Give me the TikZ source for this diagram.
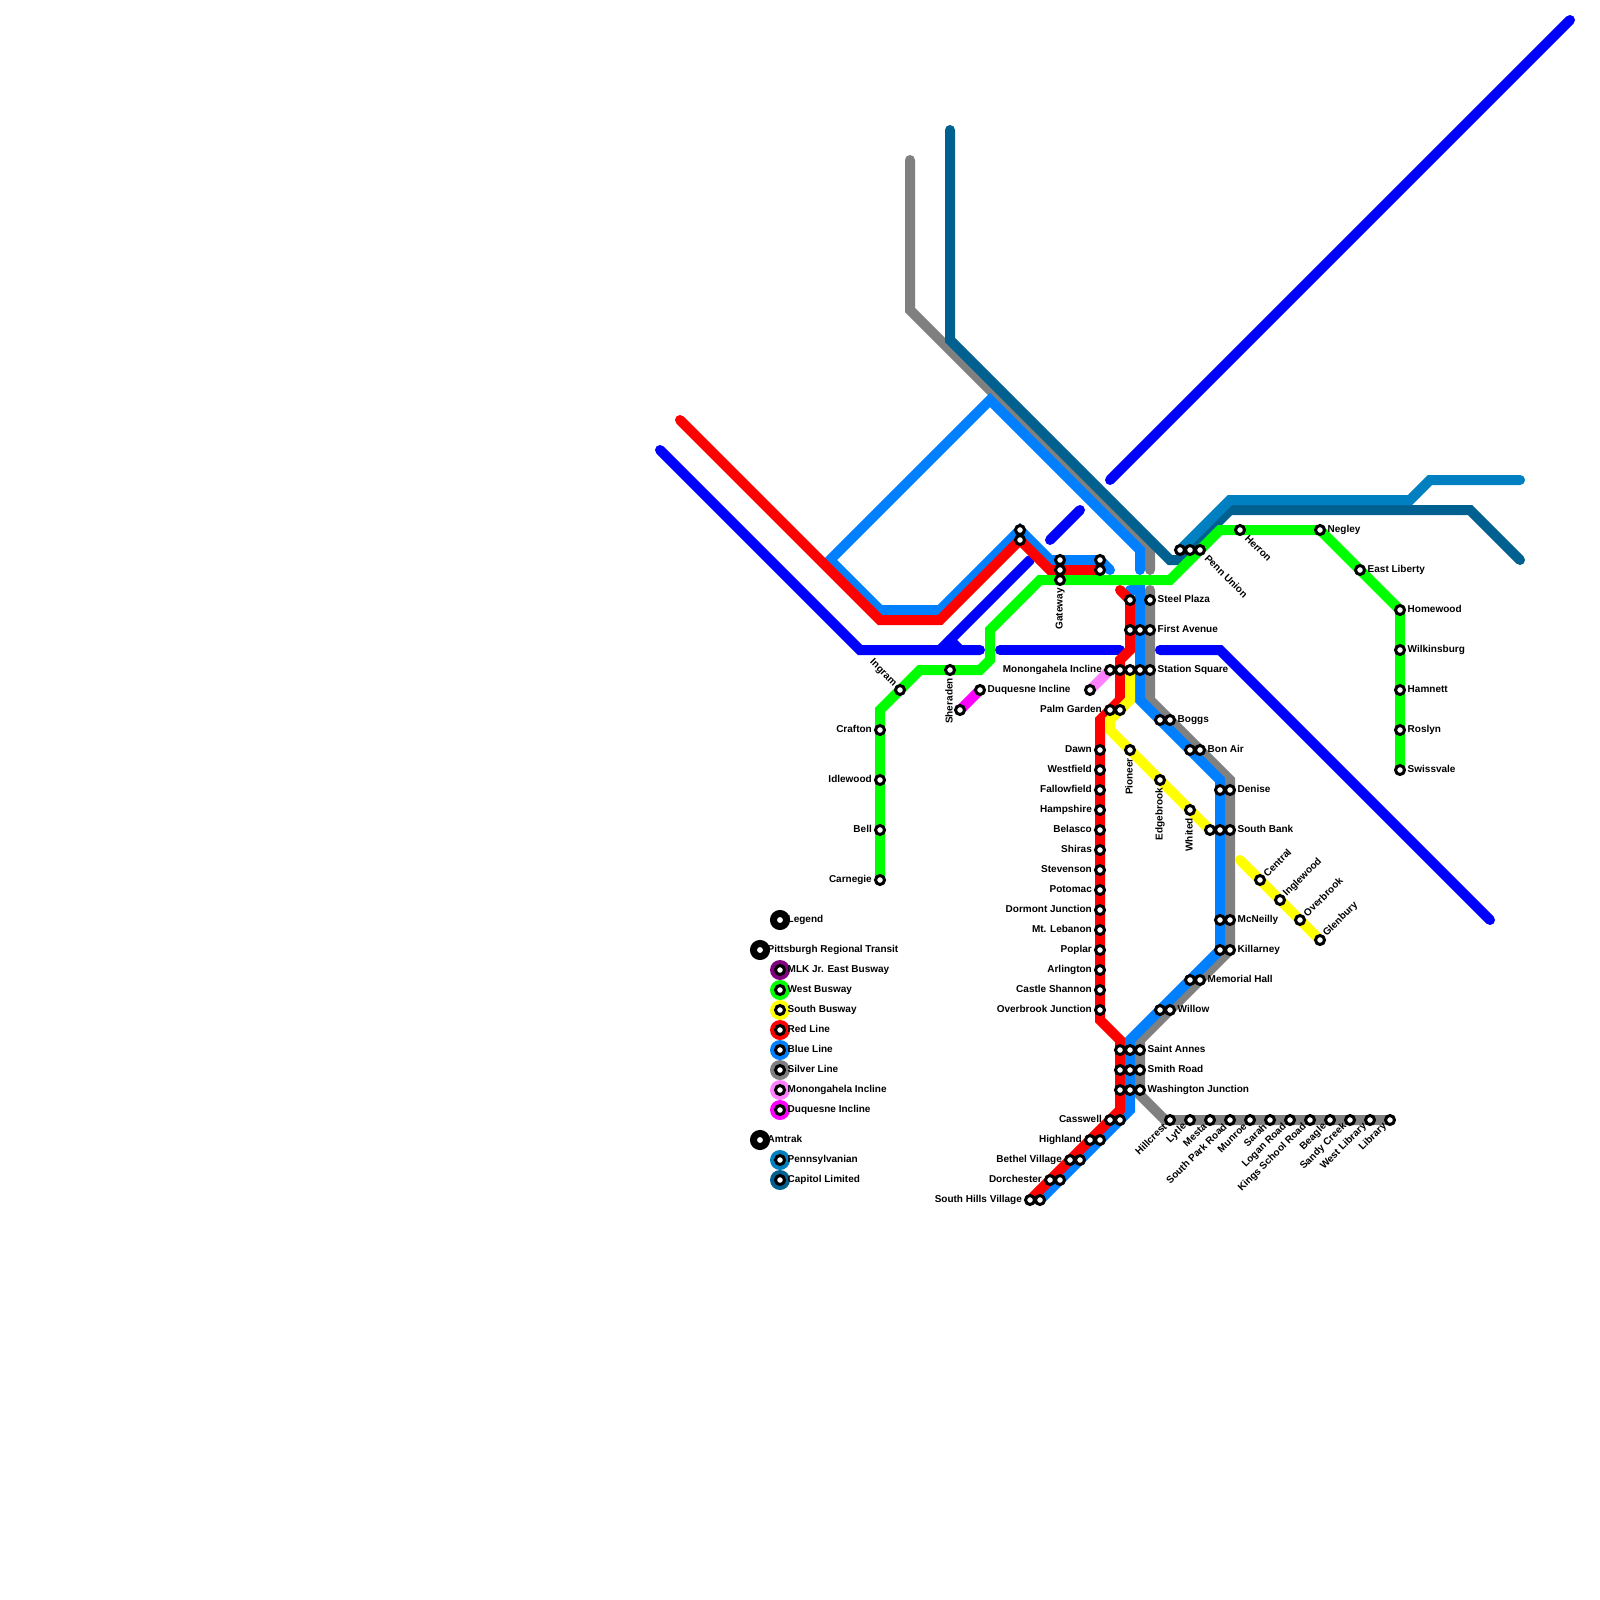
\documentclass[tikz,border=0pt]{standalone}
\usepackage{fontspec}
\setmainfont{Liberation Sans}[BoldFont={Liberation Sans Bold}]
\definecolor{cbus}{HTML}{0000FF}
\definecolor{cwest}{HTML}{00FF00}
\definecolor{csouth}{HTML}{FFFF00}
\definecolor{cred}{HTML}{FF0000}
\definecolor{cblue}{HTML}{0080FF}
\definecolor{csilver}{HTML}{808080}
\definecolor{cmon}{HTML}{FF80FF}
\definecolor{cduq}{HTML}{FF00FF}
\definecolor{cpenn}{HTML}{0080C0}
\definecolor{ccap}{HTML}{006090}
\definecolor{cmlk}{HTML}{800080}
\tikzset{
  route/.style={draw=#1,line width=10pt,line cap=round,line join=miter},
  stn/.style={circle,draw=black,fill=white,line width=3pt,minimum size=9pt,inner sep=0pt},
  swatch/.style={circle,fill=#1,minimum size=20pt,inner sep=0pt},
  hdr/.style={circle,draw=black,fill=white,line width=7pt,minimum size=13pt,inner sep=0pt},
  lab/.style={font=\fontsize{10}{12}\selectfont\bfseries,text=black,inner sep=0pt},
}
\newcommand\lblR[3]{\node[lab,anchor=base west] (tr#1-#2) at (#1+7.5,#2+2.3) {#3};}
\newcommand\lblL[3]{\node[lab,anchor=base east] (tl#1-#2) at (#1-8,#2+2.3) {#3};}
\newcommand\lblV[3]{\node[lab,rotate=90,anchor=base east] (tv#1-#2) at (#1+2.5,#2+8) {#3};}
\newcommand\lblSW[3]{\node[lab,rotate=45,anchor=east] (ts#1-#2) at (#1-5,#2+5) {#3};}
\newcommand\lblNE[3]{\node[lab,rotate=45,anchor=west] (tn#1-#2) at (#1+5,#2-5) {#3};}
\newcommand\lblSE[3]{\node[lab,rotate=-45,anchor=west] (te#1-#2) at (#1+6.5,#2+6.5) {#3};}
\newcommand\lblNW[3]{\node[lab,rotate=-45,anchor=east] (tw#1-#2) at (#1-5,#2-5) {#3};}
\begin{document}
\begin{tikzpicture}[x=1pt,y=-1pt]
\useasboundingbox[fill=white] (0,0) rectangle (1600,1600);
% route vertices
\foreach \n/\x/\y in {
 b1/660/450,b2/860/650,b3/980/650,b4/1030/560,b5/950/640,b6/940/650,b7/960/650,
 b8/1000/650,b9/1120/650,b10/1160/650,b11/1220/650,b12/1490/920,
 b13/1050/540,b14/1080/510,b15/1110/480,b16/1570/20,
 s1/910/160,s2/910/310,s3/1150/550,s4/1150/570,s5/1150/590,s6/1150/700,s7/1230/780,
 s8/1230/950,s9/1140/1040,s10/1140/1095,s11/1165/1120,s12/1390/1120,
 u1/830/560,u2/990/400,u3/1140/550,u4/1140/570,u5/880/610,u6/940/610,u7/1020/530,
 u8/1050/560,u9/1100/560,u10/1110/570,u11/1130/590,u12/1140/590,u13/1140/700,
 u14/1220/780,u15/1220/950,u16/1130/1040,u17/1130/1110,u18/1040/1200,
 r1/680/420,r2/880/620,r3/940/620,r4/1020/540,r5/1050/570,r6/1100/570,
 r7/1120/590,r8/1130/600,r9/1130/650,r10/1120/660,r11/1120/700,r12/1100/720,
 r13/1100/1020,r14/1120/1040,r15/1120/1110,r16/1030/1200,
 y1/1130/670,y2/1130/700,y3/1110/720,y4/1110/730,y5/1210/830,y6/1240/860,y7/1320/940,
 c1/950/130,c2/950/340,c3/1170/560,c4/1180/560,c5/1230/510,c6/1470/510,c7/1520/560,
 p1/1180/550,p2/1230/500,p3/1410/500,p4/1430/480,p5/1520/480,
 g1/880/880,g2/880/710,g3/920/670,g4/980/670,g5/990/660,g6/990/630,g7/1040/580,
 g8/1170/580,g9/1220/530,g10/1320/530,g11/1400/610,g12/1400/770,
 m1/1090/690,m2/1110/670,d1/960/710,d2/980/690}
 {\coordinate (\n) at (\x,\y);}
% routes
\draw[route=cbus] (b1)--(b2)--(b3);
\draw[route=cbus] (b4)--(b6);
\draw[route=cbus] (b5)--(b7);
\draw[route=cbus] (b8)--(b9);
\draw[route=cbus] (b10)--(b11)--(b12);
\draw[route=cbus] (b13)--(b14);
\draw[route=cbus] (b15)--(b16);
\draw[route=csilver] (s1)--(s2)--(s3)--(s4);
\draw[route=csilver] (s5)--(s6)--(s7)--(s8)--(s9)--(s10)--(s11)--(s12);
\draw[route=cblue] (u4)--(u3)--(u2)--(u1)--(u5)--(u6)--(u7)--(u8)--(u9)--(u10);
\draw[route=cblue] (u11)--(u12)--(u13)--(u14)--(u15)--(u16)--(u17)--(u18);
\draw[route=cred] (r1)--(r2)--(r3)--(r4)--(r5)--(r6);
\draw[route=cred] (r7)--(r8)--(r9)--(r10)--(r11)--(r12)--(r13)--(r14)--(r15)--(r16);
\draw[route=csouth] (y1)--(y2)--(y3)--(y4)--(y5);
\draw[route=csouth] (y6)--(y7);
\draw[route=ccap] (c1)--(c2)--(c3)--(c4)--(c5)--(c6)--(c7);
\draw[route=cpenn] (p1)--(p2)--(p3)--(p4)--(p5);
\draw[route=cwest] (g1)--(g2)--(g3)--(g4)--(g5)--(g6)--(g7)--(g8)--(g9)--(g10)--(g11)--(g12);
\draw[route=cmon] (m1)--(m2);
\draw[route=cduq] (d1)--(d2);
% legend swatches
\foreach \c/\y in {cmlk/970,cwest/990,csouth/1010,cred/1030,cblue/1050,csilver/1070,cmon/1090,cduq/1110,cpenn/1160,ccap/1180}
 {\node[swatch=\c] (sw\y) at (780,\y) {};}
\node[hdr] (h1) at (780,920) {};
\node[hdr] (h2) at (760,950) {};
\node[hdr] (h3) at (760,1140) {};
% stations
\foreach \x/\y in {
 880/880,880/830,880/780,880/730,900/690,950/670,960/710,980/690,
 1020/530,1020/540,1060/560,1060/570,1060/580,1100/560,1100/570,
 1130/600,1150/600,1130/630,1140/630,1150/630,
 1090/690,1110/670,1120/670,1130/670,1140/670,1150/670,1110/710,1120/710,
 1160/720,1170/720,1190/750,1200/750,1220/790,1230/790,1210/830,1220/830,1230/830,
 1220/920,1230/920,1220/950,1230/950,1190/980,1200/980,1160/1010,1170/1010,
 1120/1050,1130/1050,1140/1050,1120/1070,1130/1070,1140/1070,1120/1090,1130/1090,1140/1090,
 1110/1120,1120/1120,1090/1140,1100/1140,1070/1160,1080/1160,1050/1180,1060/1180,1030/1200,1040/1200,
 1100/750,1100/770,1100/790,1100/810,1100/830,1100/850,1100/870,1100/890,1100/910,1100/930,1100/950,1100/970,1100/990,1100/1010,
 1130/750,1160/780,1190/810,1260/880,1280/900,1300/920,1320/940,
 1170/1120,1190/1120,1210/1120,1230/1120,1250/1120,1270/1120,1290/1120,1310/1120,1330/1120,1350/1120,1370/1120,1390/1120,
 1180/550,1190/550,1200/550,1240/530,1320/530,1360/570,1400/610,1400/650,1400/690,1400/730,1400/770,
 780/970,780/990,780/1010,780/1030,780/1050,780/1070,780/1090,780/1110,780/1160,780/1180}
 {\node[stn] (st\x-\y) at (\x,\y) {};}
% labels, west
\lblL{880}{730}{Crafton}
\lblL{880}{780}{Idlewood}
\lblL{880}{830}{Bell}
\lblL{880}{880}{Carnegie}
\lblNW{900}{690}{Ingram}
\lblV{950}{670}{Sheraden}
\lblR{980}{690}{Duquesne Incline}
\lblV{1060}{580}{Gateway}
\lblL{1110}{670}{Monongahela Incline}
\lblL{1110}{710}{Palm Garden}
% red column
\lblL{1100}{750}{Dawn}
\lblL{1100}{770}{Westfield}
\lblL{1100}{790}{Fallowfield}
\lblL{1100}{810}{Hampshire}
\lblL{1100}{830}{Belasco}
\lblL{1100}{850}{Shiras}
\lblL{1100}{870}{Stevenson}
\lblL{1100}{890}{Potomac}
\lblL{1100}{910}{Dormont Junction}
\lblL{1100}{930}{Mt. Lebanon}
\lblL{1100}{950}{Poplar}
\lblL{1100}{970}{Arlington}
\lblL{1100}{990}{Castle Shannon}
\lblL{1100}{1010}{Overbrook Junction}
\lblL{1110}{1120}{Casswell}
\lblL{1090}{1140}{Highland}
\lblL{1070}{1160}{Bethel Village}
\lblL{1050}{1180}{Dorchester}
\lblL{1030}{1200}{South Hills Village}
% trunk
\lblR{1150}{600}{Steel Plaza}
\lblR{1150}{630}{First Avenue}
\lblR{1150}{670}{Station Square}
\lblR{1170}{720}{Boggs}
\lblR{1200}{750}{Bon Air}
\lblR{1230}{790}{Denise}
\lblR{1230}{830}{South Bank}
\lblR{1230}{920}{McNeilly}
\lblR{1230}{950}{Killarney}
\lblR{1200}{980}{Memorial Hall}
\lblR{1170}{1010}{Willow}
\lblR{1140}{1050}{Saint Annes}
\lblR{1140}{1070}{Smith Road}
\lblR{1140}{1090}{Washington Junction}
% south busway
\lblV{1130}{750}{Pioneer}
\lblV{1160}{780}{Edgebrook}
\lblV{1190}{810}{Whited}
\lblNE{1260}{880}{Central}
\lblNE{1280}{900}{Inglewood}
\lblNE{1300}{920}{Overbrook}
\lblNE{1320}{940}{Glenbury}
% silver south
\lblSW{1170}{1120}{Hillcrest}
\lblSW{1190}{1120}{Lytle}
\lblSW{1210}{1120}{Mesta}
\lblSW{1230}{1120}{South Park Road}
\lblSW{1250}{1120}{Munroe}
\lblSW{1270}{1120}{Sarah}
\lblSW{1290}{1120}{Logan Road}
\lblSW{1310}{1120}{Kings School Road}
\lblSW{1330}{1120}{Beagle}
\lblSW{1350}{1120}{Sandy Creek}
\lblSW{1370}{1120}{West Library}
\lblSW{1390}{1120}{Library}
% east
\lblSE{1200}{550}{Penn Union}
\lblSE{1240}{530}{Herron}
\lblR{1320}{530}{Negley}
\lblR{1360}{570}{East Liberty}
\lblR{1400}{610}{Homewood}
\lblR{1400}{650}{Wilkinsburg}
\lblR{1400}{690}{Hamnett}
\lblR{1400}{730}{Roslyn}
\lblR{1400}{770}{Swissvale}
% legend
\lblR{780}{920}{Legend}
\lblR{760}{950}{Pittsburgh Regional Transit}
\lblR{780}{970}{MLK Jr. East Busway}
\lblR{780}{990}{West Busway}
\lblR{780}{1010}{South Busway}
\lblR{780}{1030}{Red Line}
\lblR{780}{1050}{Blue Line}
\lblR{780}{1070}{Silver Line}
\lblR{780}{1090}{Monongahela Incline}
\lblR{780}{1110}{Duquesne Incline}
\lblR{760}{1140}{Amtrak}
\lblR{780}{1160}{Pennsylvanian}
\lblR{780}{1180}{Capitol Limited}
\end{tikzpicture}
\end{document}
